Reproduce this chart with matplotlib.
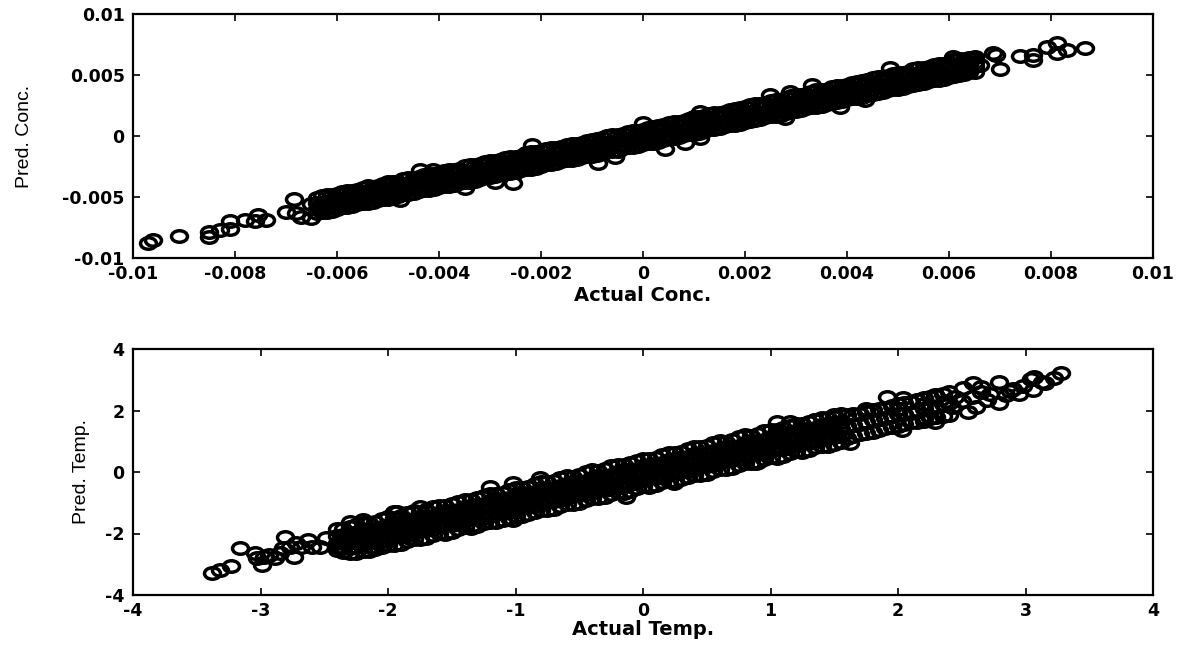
import numpy as np
import matplotlib
matplotlib.use("Agg")
import matplotlib.pyplot as plt
from matplotlib.path import Path
from matplotlib.transforms import Affine2D

# ---------------- Top panel data (units of 1e-3) ----------------
CONC_UNIT = 1e-3

conc_act_even = [-6.4,-6.2,-6.0,-5.8,-5.6,-5.4,-5.2,-5.0,-4.8,-4.6,-4.4,-4.2,-4.0,-3.8,-3.6,-3.4,-3.2,-3.0,-2.8,-2.6,
                 -2.4,-2.2,-2.0,-1.8,-1.6,-1.4,-1.2,-1.0,-0.8,-0.6,-0.4,-0.2,0.0,0.2,0.4,0.6,0.8,1.0,1.2,1.4,
                 1.6,1.8,2.0,2.2,2.4,2.6,2.8,3.0,3.2,3.4,3.6,3.8,4.0,4.2,4.4,4.6,4.8,5.0,5.2,5.4,5.6,5.8,6.0,6.2,6.4]
conc_act_odd = [-6.3,-6.1,-5.9,-5.7,-5.5,-5.3,-5.1,-4.9,-4.7,-4.5,-4.3,-4.1,-3.9,-3.7,-3.5,-3.3,-3.1,-2.9,-2.7,-2.5,
                -2.3,-2.1,-1.9,-1.7,-1.5,-1.3,-1.1,-0.9,-0.7,-0.5,-0.3,-0.1,0.1,0.3,0.5,0.7,0.9,1.1,1.3,1.5,
                1.7,1.9,2.1,2.3,2.5,2.7,2.9,3.1,3.3,3.5,3.7,3.9,4.1,4.3,4.5,4.7,4.9,5.1,5.3,5.5,5.7,5.9,6.1,6.3,6.5]
conc_act_m1 = [-6.5,-6.3,-6.1,-5.9,-5.7,-5.5,-5.3,-5.1,-4.9,-4.7,-4.5,-4.3,-4.1,-3.9,-3.7,-3.5,-3.3,-3.1,-2.9,-2.7,
               -2.5,-2.3,-2.1,-1.9,-1.7,-1.5,-1.3,-1.1,-0.9,-0.7,-0.5,-0.3,-0.1,0.1,0.3,0.5,0.7,0.9,1.1,1.3,
               1.5,1.7,1.9,2.1,2.3,2.5,2.7,2.9,3.1,3.3,3.5,3.7,3.9,4.1,4.3,4.5,4.7,4.9,5.1,5.3,5.5,5.7,5.9,6.1,6.3,6.5]

# rows on the even grid
conc_pred_u = [-5.12,-4.86,-4.79,-4.50,-4.41,-4.13,-4.07,-3.80,-3.73,-3.46,-3.36,-3.09,-3.01,-2.75,-2.68,-2.40,-2.31,-2.03,-1.96,-1.70,
               -1.61,-1.33,-1.26,-0.99,-0.90,-0.63,-0.55,-0.29,-0.20,0.06,0.15,0.41,0.50,0.77,0.87,1.15,1.24,1.52,1.60,1.88,
               1.97,2.25,2.34,2.62,2.71,2.99,3.08,3.36,3.44,3.73,3.81,4.10,4.18,4.46,4.55,4.83,4.92,5.20,5.28,5.57,5.65,5.94,6.02,6.29,6.38]
conc_pred_m1e = [-5.50,-5.40,-5.15,-5.04,-4.80,-4.69,-4.45,-4.34,-4.09,-3.99,-3.74,-3.64,-3.39,-3.28,-3.04,-2.93,-2.69,-2.58,-2.33,-2.23,
                 -1.98,-1.88,-1.63,-1.52,-1.28,-1.17,-0.93,-0.82,-0.57,-0.47,-0.22,-0.12,0.13,0.24,0.50,0.61,0.87,0.98,1.23,1.35,
                 1.60,1.72,1.97,2.08,2.34,2.45,2.71,2.82,3.07,3.19,3.44,3.56,3.81,3.92,4.18,4.29,4.55,4.66,4.91,5.03,5.28,5.40,5.65,5.76,6.02]
conc_pred_m2 = [-5.97,-5.71,-5.62,-5.36,-5.28,-5.00,-4.93,-4.65,-4.57,-4.30,-4.22,-3.95,-3.87,-3.59,-3.52,-3.24,-3.17,-2.89,-2.81,-2.54,
                -2.46,-2.19,-2.11,-1.83,-1.76,-1.48,-1.41,-1.13,-1.05,-0.78,-0.70,-0.43,-0.35,-0.08,0.02,0.30,0.39,0.67,0.75,1.04,
                1.12,1.41,1.49,1.77,1.86,2.14,2.23,2.51,2.59,2.88,2.96,3.25,3.33,3.61,3.70,3.98,4.07,4.35,4.43,4.72,4.80,5.09,5.17,5.45,5.54]
conc_pred_le = [-6.30,-6.20,-5.95,-5.84,-5.60,-5.49,-5.25,-5.14,-4.89,-4.79,-4.54,-4.44,-4.19,-4.08,-3.84,-3.73,-3.49,-3.38,-3.13,-3.03,
                -2.78,-2.68,-2.43,-2.32,-2.08,-1.97,-1.73,-1.62,-1.37,-1.27,-1.02,-0.92,-0.67,-0.56,-0.30,-0.19,0.07,0.18,0.43,0.55,
                0.80,0.92,1.17,1.28,1.54,1.65,1.91,2.02,2.27,2.39,2.64,2.76,3.01,3.12,3.38,3.49,3.75,3.86,4.11,4.23,4.48,4.60,4.85,4.96,5.22]

# rows on the odd grid
conc_pred_m1 = [-5.58,-5.49,-5.22,-5.14,-4.87,-4.79,-4.51,-4.44,-4.16,-4.09,-3.81,-3.73,-3.46,-3.38,-3.11,-3.03,-2.75,-2.68,-2.40,-2.33,
                -2.05,-1.97,-1.70,-1.62,-1.35,-1.27,-0.99,-0.92,-0.64,-0.57,-0.29,-0.21,0.06,0.14,0.43,0.51,0.79,0.88,1.16,1.25,
                1.53,1.61,1.90,1.98,2.27,2.35,2.63,2.72,3.00,3.09,3.37,3.45,3.74,3.82,4.11,4.19,4.47,4.56,4.84,4.93,5.21,5.29,5.58,5.66,5.95,6.03]
conc_pred_uo = [-4.95,-4.86,-4.60,-4.51,-4.25,-4.15,-3.90,-3.80,-3.55,-3.45,-3.19,-3.10,-2.84,-2.75,-2.49,-2.39,-2.14,-2.04,-1.79,-1.69,
                -1.43,-1.34,-1.08,-0.99,-0.73,-0.63,-0.38,-0.28,-0.03,0.07,0.33,0.42,0.68,0.79,1.05,1.15,1.42,1.52,1.79,1.89,
                2.15,2.26,2.52,2.63,2.89,2.99,3.26,3.36,3.63,3.73,3.99,4.10,4.36,4.47,4.73,4.83,5.10,5.20,5.47,5.57,5.83,5.94,6.20,6.31,6.50]
conc_pred_m2o = [-5.80,-5.71,-5.45,-5.36,-5.10,-5.00,-4.75,-4.65,-4.40,-4.30,-4.04,-3.95,-3.69,-3.60,-3.34,-3.24,-2.99,-2.89,-2.64,-2.54,
                 -2.28,-2.19,-1.93,-1.84,-1.58,-1.48,-1.23,-1.13,-0.88,-0.78,-0.52,-0.43,-0.17,-0.06,0.20,0.30,0.57,0.67,0.94,1.04,
                 1.30,1.41,1.67,1.78,2.04,2.14,2.41,2.51,2.78,2.88,3.14,3.25,3.51,3.62,3.88,3.98,4.25,4.35,4.62,4.72,4.98,5.09,5.35,5.46,5.72]
conc_pred_l = [-6.20,-6.11,-5.85,-5.76,-5.50,-5.41,-5.14,-5.06,-4.79,-4.71,-4.44,-4.35,-4.09,-4.00,-3.74,-3.65,-3.38,-3.30,-3.03,-2.95,
               -2.68,-2.59,-2.33,-2.24,-1.98,-1.89,-1.62,-1.54,-1.27,-1.19,-0.92,-0.83,-0.57,-0.46,-0.20,-0.10,0.17,0.27,0.54,0.64,
               0.90,1.01,1.27,1.38,1.64,1.74,2.01,2.11,2.38,2.48,2.74,2.85,3.11,3.22,3.48,3.58,3.85,3.95,4.22,4.32,4.58,4.69,4.95,5.06,5.24]

conc_act_out = [-9.7,-9.6,-9.1,-8.5,-8.5,-8.3,-8.1,-8.1,-7.8,-7.6,-7.55,-7.4,-7.0,-6.85,-6.8,-6.7,-6.5,
                -4.37,-4.12,-2.18,-2.54,-4.76,-3.49,-2.9,-0.88,-0.55,0.43,0.82,1.12,2.78,2.88,2.49,1.12,0.0,
                4.84,3.86,4.35,3.31,6.08,6.47,6.6,6.87,6.93,7.0,7.39,7.65,7.65,7.92,8.11,8.11,8.31,8.67]
conc_pred_out = [-8.75,-8.5,-8.2,-7.85,-8.3,-7.7,-7.0,-7.6,-6.9,-7.0,-6.5,-6.9,-6.2,-5.2,-6.3,-6.6,-6.7,
                 -2.8,-2.75,-0.74,-3.88,-5.25,-4.26,-3.75,-2.2,-1.7,-1.07,-0.6,-0.2,1.47,3.63,3.36,2.0,1.06,
                 5.55,2.4,2.95,4.18,6.5,6.37,5.82,6.8,6.6,5.49,6.56,6.64,6.23,7.32,7.6,6.78,7.05,7.19]

conc_ticks = [-0.01, -0.008, -0.006, -0.004, -0.002, 0, 0.002, 0.004, 0.006, 0.008, 0.01]
conc_tick_labels = ["-0.01", "-0.008", "-0.006", "-0.004", "-0.002", "0", "0.002", "0.004", "0.006", "0.008", "0.01"]
conc_yticks = [-0.01, -0.005, 0, 0.005, 0.01]
conc_ytick_labels = ["-0.01", "-0.005", "0", "0.005", "0.01"]

# ---------------- Bottom panel data ----------------
temp_act_ace = [-2.40,-2.30,-2.20,-2.10,-2.00,-1.90,-1.80,-1.70,-1.60,-1.50,-1.40,-1.30,-1.20,-1.10,-1.00,-0.90,-0.80,-0.70,-0.60,-0.50,
                -0.40,-0.30,-0.20,-0.10,0.00,0.10,0.20,0.30,0.40,0.50,0.60,0.70,0.80,0.90,1.00,1.10,1.20,1.30,1.40,1.50]
temp_pred_a = [-1.85,-1.80,-1.66,-1.62,-1.46,-1.43,-1.27,-1.24,-1.09,-1.05,-0.90,-0.86,-0.71,-0.67,-0.52,-0.48,-0.33,-0.29,-0.14,-0.10,
               0.05,0.09,0.24,0.28,0.43,0.47,0.62,0.66,0.81,0.85,1.00,1.04,1.19,1.23,1.38,1.42,1.57,1.61,1.76,1.80]
temp_pred_b2 = [-2.09,-2.03,-1.90,-1.84,-1.71,-1.65,-1.52,-1.46,-1.33,-1.27,-1.14,-1.08,-0.95,-0.89,-0.76,-0.70,-0.57,-0.51,-0.38,-0.32,
                -0.19,-0.13,0.00,0.06,0.19,0.25,0.38,0.44,0.57,0.63,0.76,0.82,0.95,1.01,1.14,1.20,1.33,1.39,1.52,1.58]
temp_pred_c = [-2.30,-2.26,-2.11,-2.07,-1.92,-1.88,-1.73,-1.69,-1.54,-1.50,-1.35,-1.31,-1.16,-1.12,-0.97,-0.93,-0.78,-0.74,-0.59,-0.55,
               -0.40,-0.36,-0.21,-0.17,-0.02,0.02,0.17,0.21,0.36,0.40,0.55,0.59,0.74,0.78,0.93,0.97,1.12,1.16,1.31,1.35]
temp_pred_d2 = [-2.53,-2.47,-2.34,-2.28,-2.15,-2.09,-1.96,-1.90,-1.77,-1.71,-1.58,-1.52,-1.39,-1.33,-1.20,-1.14,-1.01,-0.95,-0.82,-0.76,
                -0.63,-0.57,-0.44,-0.38,-0.25,-0.19,-0.06,0.00,0.13,0.19,0.32,0.38,0.51,0.57,0.70,0.76,0.89,0.95,1.08,1.14]
temp_pred_e = [-2.45,-2.62,-2.56,-2.52,-2.37,-2.33,-2.18,-2.14,-1.99,-1.95,-1.80,-1.76,-1.61,-1.57,-1.42,-1.38,-1.23,-1.19,-1.04,-1.00,
               -0.85,-0.81,-0.66,-0.62,-0.47,-0.43,-0.28,-0.24,-0.09,-0.05,0.10,0.14,0.29,0.33,0.48,0.52,0.67,0.71,0.86,0.90]

temp_act_bd = [-2.35,-2.25,-2.15,-2.05,-1.95,-1.85,-1.75,-1.65,-1.55,-1.45,-1.35,-1.25,-1.15,-1.05,-0.95,-0.85,-0.75,-0.65,-0.55,-0.45,
               -0.35,-0.25,-0.15,-0.05,0.05,0.15,0.25,0.35,0.45,0.55,0.65,0.75,0.85,0.95,1.05,1.15,1.25,1.35,1.45,1.55]
temp_pred_a2 = [-1.86,-1.72,-1.67,-1.53,-1.48,-1.34,-1.29,-1.15,-1.10,-0.96,-0.91,-0.77,-0.72,-0.58,-0.53,-0.39,-0.34,-0.20,-0.15,-0.01,
                0.04,0.18,0.23,0.37,0.42,0.56,0.61,0.75,0.80,0.94,0.99,1.13,1.18,1.32,1.37,1.51,1.56,1.70,1.75,1.89]
temp_pred_b = [-2.04,-1.99,-1.85,-1.80,-1.66,-1.61,-1.47,-1.42,-1.28,-1.23,-1.09,-1.04,-0.90,-0.85,-0.71,-0.66,-0.52,-0.47,-0.33,-0.28,
               -0.14,-0.09,0.05,0.10,0.24,0.29,0.43,0.48,0.62,0.67,0.81,0.86,1.00,1.05,1.19,1.24,1.38,1.43,1.57,1.62]
temp_pred_c2 = [-2.25,-2.21,-2.06,-2.02,-1.87,-1.83,-1.68,-1.64,-1.49,-1.45,-1.30,-1.26,-1.11,-1.07,-0.92,-0.88,-0.73,-0.69,-0.54,-0.50,
                -0.35,-0.31,-0.16,-0.12,0.03,0.07,0.22,0.26,0.41,0.45,0.60,0.64,0.79,0.83,0.98,1.02,1.17,1.21,1.36,1.40]
temp_pred_d = [-2.48,-2.43,-2.29,-2.24,-2.10,-2.05,-1.91,-1.86,-1.72,-1.67,-1.53,-1.48,-1.34,-1.29,-1.15,-1.10,-0.96,-0.91,-0.77,-0.72,
               -0.58,-0.53,-0.39,-0.34,-0.20,-0.15,-0.01,0.04,0.18,0.23,0.37,0.42,0.56,0.61,0.75,0.80,0.94,0.99,1.13,1.18]
temp_pred_e2 = [-2.60,-2.62,-2.57,-2.43,-2.38,-2.24,-2.19,-2.05,-2.00,-1.86,-1.81,-1.67,-1.62,-1.48,-1.43,-1.29,-1.24,-1.10,-1.05,-0.91,
                -0.86,-0.72,-0.67,-0.53,-0.48,-0.34,-0.29,-0.15,-0.10,0.04,0.09,0.23,0.28,0.42,0.47,0.61,0.66,0.80,0.85,0.99]

temp_act_ext = [1.6,1.7,1.8,1.9,2.0,2.1,2.2,2.3,2.4, 1.65,1.75,1.85,1.95,2.05,2.15,2.25,2.35,
                1.6,1.7,1.8,1.9,2.0,2.1,2.2,2.3,2.4,
                1.65,1.75,1.85,1.95,2.05,2.15,2.25,2.35, 1.6,1.7,1.8,1.9,2.0,2.1,2.2,2.3,2.4,
                1.65,1.75,1.85,1.95,2.05,2.15,2.25,2.35]
temp_pred_ext = [1.84,1.90,2.03,2.09,2.22,2.28,2.41,2.46,2.60, 1.52,1.64,1.71,1.83,1.90,2.01,2.09,2.20,
                 1.10,1.24,1.29,1.43,1.48,1.62,1.67,1.80,1.86,
                 1.87,1.96,2.06,2.15,2.25,2.34,2.44,2.53, 1.49,1.55,1.68,1.74,1.87,1.93,2.06,2.12,2.25,
                 1.17,1.26,1.36,1.45,1.55,1.64,1.74,1.83]

temp_act_hi = [3.28,3.22,3.07,3.04,3.13,3.06,2.98,2.90,2.79,2.79,2.72,2.65,2.59,2.55,2.61,2.51,2.45,2.29,2.29,2.20,
               2.04,1.91,2.03,1.62,2.50,2.85,2.95,2.70,2.42,2.65,2.20,2.00,1.75,1.50,1.35,1.05,1.15,2.38,2.58,2.88,3.15]
temp_pred_hi = [3.23,3.05,3.10,3.02,2.93,2.67,2.80,2.70,2.94,2.23,2.55,2.60,2.89,1.96,2.13,2.73,2.45,2.50,1.64,1.76,
                2.41,2.45,1.37,0.93,2.30,2.50,2.55,2.35,2.10,2.75,2.20,2.05,2.05,1.85,1.70,1.64,1.62,2.30,2.45,2.65,2.90]

temp_act_lo = [-3.38,-3.32,-3.23,-3.16,-3.04,-3.03,-2.99,-2.97,-2.93,-2.89,-2.85,-2.81,-2.82,-2.77,-2.74,-2.72,-2.68,-2.63,-2.60,-2.53,-2.49,
               -2.30,-2.20,-1.95,-2.38,-2.14,-2.04,-1.20,-1.02,-0.81,-1.93,-1.75,-1.33,-1.02,-0.13,0.24,0.89,-1.83]
temp_pred_lo = [-3.27,-3.19,-3.05,-2.48,-2.65,-2.81,-3.02,-2.75,-2.70,-2.80,-2.64,-2.12,-2.48,-2.43,-2.75,-2.32,-2.43,-2.21,-2.43,-2.43,-2.16,
                -1.62,-1.56,-1.29,-2.48,-2.44,-2.37,-0.48,-0.35,-0.20,-1.29,-1.13,-1.72,-1.56,-0.80,-0.35,0.28,-2.15]

temp_ticks = [-4, -3, -2, -1, 0, 1, 2, 3, 4]
temp_tick_labels = ["-4", "-3", "-2", "-1", "0", "1", "2", "3", "4"]
temp_yticks = [-4, -2, 0, 2, 4]
temp_ytick_labels = ["-4", "-2", "0", "2", "4"]

# ---------------- Assemble ----------------
conc_actual = np.concatenate([conc_act_even, conc_act_even, conc_act_even, conc_act_even,
                              conc_act_m1, conc_act_odd, conc_act_odd, conc_act_odd,
                              conc_act_out]) * CONC_UNIT
conc_pred = np.concatenate([conc_pred_u, conc_pred_m1e, conc_pred_m2, conc_pred_le,
                            conc_pred_m1, conc_pred_uo, conc_pred_m2o, conc_pred_l,
                            conc_pred_out]) * CONC_UNIT

temp_actual = np.concatenate([temp_act_ace] * 5 + [temp_act_bd] * 5 +
                             [temp_act_ext, temp_act_hi, temp_act_lo])
temp_pred = np.concatenate([temp_pred_a, temp_pred_b2, temp_pred_c, temp_pred_d2, temp_pred_e,
                            temp_pred_a2, temp_pred_b, temp_pred_c2, temp_pred_d, temp_pred_e2,
                            temp_pred_ext, temp_pred_hi, temp_pred_lo])

# elliptical open marker (the scanned figure is horizontally stretched)
ellipse = Path.unit_circle().transformed(Affine2D().scale(1.0, 0.72))

fig = plt.figure(figsize=(11.84, 6.49), dpi=100)
fig.patch.set_facecolor("white")

ax1 = fig.add_axes([133/1184, 1 - 258/649, 1020/1184, 244/649])
ax2 = fig.add_axes([133/1184, 1 - 595/649, 1020/1184, 246/649])

tick_font = dict(family="DejaVu Sans", weight="bold", size=12.5)
xlab_font = dict(family="DejaVu Sans", weight="bold", size=14)
ylab_font = dict(family="Liberation Sans", weight="normal", size=14)

marker_kw = dict(linestyle="none", marker=ellipse, markersize=11.5,
                 markerfacecolor="none", markeredgecolor="black", markeredgewidth=2.5)

def style(ax, xt, xtl, yt, ytl, xlim, ylim):
    ax.set_xlim(*xlim)
    ax.set_ylim(*ylim)
    ax.set_xticks(xt)
    ax.set_xticklabels(xtl, fontdict=tick_font)
    ax.set_yticks(yt)
    ax.set_yticklabels(ytl, fontdict=tick_font)
    ax.tick_params(direction="in", length=5, width=1.2, top=True, right=True, colors="black")
    ax.tick_params(axis="x", pad=5)
    ax.tick_params(axis="y", pad=6)
    for sp in ax.spines.values():
        sp.set_linewidth(1.6)
        sp.set_color("black")

ax1.plot(conc_actual, conc_pred, **marker_kw)
style(ax1, conc_ticks, conc_tick_labels, conc_yticks, conc_ytick_labels, (-0.01, 0.01), (-0.01, 0.01))
ax1.set_xlabel("Actual Conc.", fontdict=xlab_font)
ax1.set_ylabel("Pred. Conc.", fontdict=ylab_font)
ax1.xaxis.set_label_coords(0.5, -0.115)
ax1.yaxis.set_label_coords(-0.098, 0.5)

ax2.plot(temp_actual, temp_pred, **marker_kw)
style(ax2, temp_ticks, temp_tick_labels, temp_yticks, temp_ytick_labels, (-4, 4), (-4, 4))
ax2.set_xlabel("Actual Temp.", fontdict=xlab_font)
ax2.set_ylabel("Pred. Temp.", fontdict=ylab_font)
ax2.xaxis.set_label_coords(0.5, -0.100)
ax2.yaxis.set_label_coords(-0.042, 0.5)

fig.savefig("out.png", dpi=100, facecolor="white")
